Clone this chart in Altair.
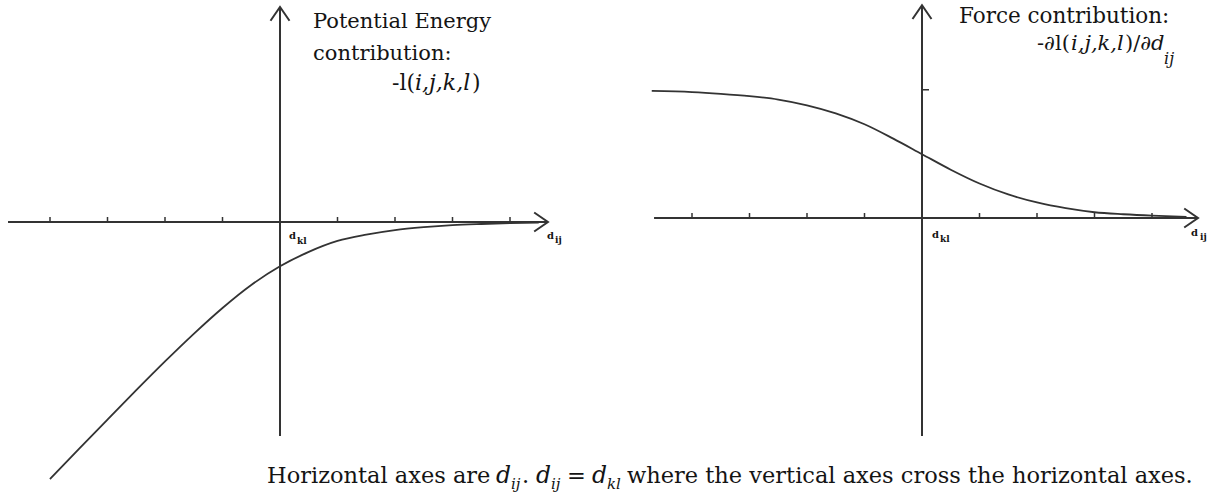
import altair as alt
import pandas as pd

# Both panels use the same unit along d_ij: the tick spacing, with d_kl at 0.
TICKS = [-4, -3, -2, -1, 1, 2, 3, 4]

# Potential energy contribution -l(i,j,k,l) against d_ij
PE_X = [-4.0, -3.5, -3.0, -2.5, -2.0, -1.5, -1.0, -0.5, 0.0, 0.5, 1.0, 1.5, 2.0, 2.5, 3.0, 3.5, 4.0, 4.5]
PE_Y = [-4.47, -3.95, -3.435, -2.925, -2.425, -1.945, -1.495, -1.095, -0.77, -0.52, -0.33, -0.22,
        -0.14, -0.09, -0.055, -0.035, -0.02, -0.012]

# Force contribution -dl(i,j,k,l)/dd_ij against d_ij
F_X = [-4.7, -4.0, -3.5, -3.0, -2.5, -2.0, -1.5, -1.0, -0.5, 0.0, 0.5, 1.0, 1.5, 2.0, 2.5, 3.0,
       3.5, 4.0, 4.6]
F_Y = [2.21, 2.19, 2.16, 2.12, 2.06, 1.96, 1.82, 1.63, 1.38, 1.11, 0.84, 0.60, 0.41, 0.27, 0.17,
       0.10, 0.065, 0.04, 0.02]
F_MAX = 2.23  # plateau level marked on the force axis

# axis extents (start/end of the drawn axis lines) for each panel
PE_H_AXIS = [-4.73, 4.66]
PE_V_AXIS = [-3.72, 3.74]
F_H_AXIS = [-4.66, 4.8]
F_V_AXIS = [-3.79, 3.70]

INK = "#333333"
TEXT = "#141414"
FONT = "DejaVu Serif"
ARROW = "M-1,1.45 L0,0 L1,1.45"  # open chevron, tip at the anchor point


def enc(xdom, ydom):
    x = alt.X("x:Q", scale=alt.Scale(domain=xdom, nice=False, zero=False), axis=None)
    y = alt.Y("y:Q", scale=alt.Scale(domain=ydom, nice=False, zero=False), axis=None)
    return x, y


def axes_layers(X, Y, h_axis, v_axis):
    lines = pd.DataFrame({
        "x": [h_axis[0], 0], "y": [0, v_axis[0]],
        "x2": [h_axis[1], 0], "y2": [0, v_axis[1]],
    })
    rules = alt.Chart(lines).mark_rule(color=INK, strokeWidth=2).encode(
        x=X, y=Y, x2="x2:Q", y2="y2:Q")
    heads = pd.DataFrame({"x": [h_axis[1], 0], "y": [0, v_axis[1]], "angle": [90, 0]})
    arrows = alt.Chart(heads).mark_point(
        shape=ARROW, filled=False, size=361, strokeWidth=2, color=INK, opacity=1
    ).encode(x=X, y=Y, angle=alt.Angle("angle:Q", scale=None))
    ticks = alt.Chart(pd.DataFrame({"x": TICKS, "y": [0] * len(TICKS)})).mark_tick(
        orient="vertical", size=5, thickness=1.5, yOffset=-2.5, color=INK, opacity=1
    ).encode(x=X, y=Y)
    return [rules, arrows, ticks]


def text_layer(X, Y, rows, italic=False, bold=False):
    df = pd.DataFrame(rows, columns=["x", "y", "label", "fs"])
    kw = dict(align="left", baseline="alphabetic", font=FONT, color=TEXT)
    if italic:
        kw["fontStyle"] = "italic"
    if bold:
        kw["fontWeight"] = "bold"
    return alt.Chart(df).mark_text(**kw).encode(
        x=X, y=Y, text="label:N", size=alt.Size("fs:Q", scale=None))


# ---- left panel: potential energy ----
LX, LY = enc([-4.8696, 5.7217], [-4.9043, 3.8609])
pe_curve = alt.Chart(pd.DataFrame({"x": PE_X, "y": PE_Y})).mark_line(
    color=INK, strokeWidth=1.8, interpolate="monotone").encode(x=LX, y=LY)

left_upright = [
    (0.574, 3.374, "Potential Energy", 21),
    (0.574, 2.817, "contribution:", 21),
    (1.948, 2.296, "-l(", 22),
    (3.339, 2.296, ")", 22),
    (-0.226, -4.539, "Horizontal axes are", 22.5),
    (4.209, -4.539, ".", 22.5),
    (4.991, -4.539, "=", 22.5),
    (6.035, -4.539, "where the vertical axes cross the horizontal axes.", 22.5),
]
left_italic = [
    (2.348, 2.296, "i,j,k,l", 22),
    (3.757, -4.539, "d", 23.5),
    (4.017, -4.643, "ij", 15),
    (4.452, -4.539, "d", 23.5),
    (4.713, -4.643, "ij", 15),
    (5.426, -4.539, "d", 23.5),
    (5.687, -4.643, "kl", 15),
]
left_small = [
    (0.157, -0.296, "d", 10),
    (0.296, -0.383, "kl", 9),
    (4.643, -0.296, "d", 10),
    (4.783, -0.365, "ij", 9),
]

left = alt.layer(
    *axes_layers(LX, LY, PE_H_AXIS, PE_V_AXIS),
    pe_curve,
    text_layer(LX, LY, left_upright),
    text_layer(LX, LY, left_italic, italic=True),
    text_layer(LX, LY, left_small, bold=True),
).properties(width=609, height=504)

# ---- right panel: force ----
RX, RY = enc([-5.4435, 5.1652], [-4.9739, 3.7913])
f_curve = alt.Chart(pd.DataFrame({"x": F_X, "y": F_Y})).mark_line(
    color=INK, strokeWidth=1.8, interpolate="monotone").encode(x=RX, y=RY)
f_tick = alt.Chart(pd.DataFrame({"x": [0], "y": [F_MAX]})).mark_tick(
    orient="horizontal", size=7, thickness=1.5, xOffset=3.5, color=INK, opacity=1
).encode(x=RX, y=RY)

right_upright = [
    (0.643, 3.391, "Force contribution:", 21.5),
    (2.000, 2.922, "-\u2202l(", 21),
    (3.530, 2.922, ")/\u2202", 21),
]
right_italic = [
    (2.591, 2.922, "i,j,k,l", 21),
    (3.983, 2.922, "d", 21),
    (4.209, 2.678, "ij", 16),
]
right_small = [
    (0.174, -0.348, "d", 10),
    (0.313, -0.417, "kl", 9),
    (4.678, -0.313, "d", 10),
    (4.835, -0.383, "ij", 9),
]

right = alt.layer(
    *axes_layers(RX, RY, F_H_AXIS, F_V_AXIS),
    f_tick,
    f_curve,
    text_layer(RX, RY, right_upright),
    text_layer(RX, RY, right_italic, italic=True),
    text_layer(RX, RY, right_small, bold=True),
).properties(width=610, height=504)

chart = alt.hconcat(left, right, spacing=0, bounds="flush").properties(
    padding=0, background="white"
).configure_view(stroke=None)

chart.save("out.html", embed_options={"renderer": "svg", "actions": False})
